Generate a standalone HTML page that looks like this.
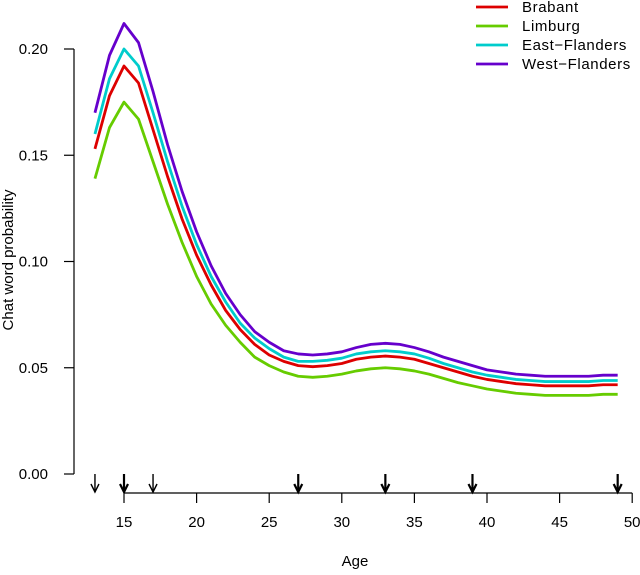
<!DOCTYPE html>
<html><head><meta charset="utf-8"><style>
body{margin:0;background:#fff}
svg text{font-family:"Liberation Sans",Arial,sans-serif;font-size:15px;fill:#000}
</style></head><body>
<svg id="c" width="640" height="570">
<g id="axes"></g><g id="series"></g><g id="legend"></g>
</svg>
<script>
const ages=[13,14,15,16,17,18,19,20,21,22,23,24,25,26,27,28,29,30,31,32,33,34,35,36,37,38,39,40,41,42,43,44,45,46,47,48,49];
const brabant=[.153,.178,.192,.184,.162,.140,.120,.103,.089,.077,.068,.061,.056,.053,.051,.0505,.051,.052,.054,.055,.0555,.055,.054,.052,.050,.048,.046,.0445,.0435,.0425,.042,.0415,.0415,.0415,.0415,.042,.042];
const limburg=[.139,.163,.175,.167,.147,.127,.109,.093,.080,.070,.062,.055,.051,.048,.046,.0455,.046,.047,.0485,.0495,.050,.0495,.0485,.047,.045,.043,.0415,.040,.039,.038,.0375,.037,.037,.037,.037,.0375,.0375];
const eastFlanders=[.160,.186,.200,.192,.170,.147,.126,.108,.093,.081,.071,.064,.059,.055,.053,.053,.0535,.0545,.0565,.0575,.058,.0575,.0565,.0545,.052,.050,.048,.0465,.0455,.0445,.044,.0435,.0435,.0435,.0435,.044,.044];
const westFlanders=[.170,.197,.212,.203,.180,.155,.133,.114,.098,.085,.075,.067,.062,.058,.0565,.056,.0565,.0575,.0595,.061,.0615,.061,.0595,.0575,.055,.053,.051,.049,.048,.047,.0465,.046,.046,.046,.046,.0465,.0465];
const seriesNames=["Brabant","Limburg","East\u2212Flanders","West\u2212Flanders"];
const seriesColors=["#dd0000","#66cc00","#00cccc","#6600cc"];
const yTicks=[0,0.05,0.10,0.15,0.20];
const yTickLabels=["0.00","0.05","0.10","0.15","0.20"];
const xTicks=[15,20,25,30,35,40,45,50];
const arrowAges=[13,15,17,27,33,39,49];
const arrowThick=[false,true,false,true,true,true,true];
const X=a=>124+(a-15)*14.52;
const Y=v=>474-v*2125;
const NS="http://www.w3.org/2000/svg";
function mk(p,t,at){const e=document.createElementNS(NS,t);for(const k in at)e.setAttribute(k,at[k]);p.appendChild(e);return e;}
const ax=document.getElementById('axes');
const yAxis=mk(ax,'line',{x1:74,x2:74,y1:Y(0.20),y2:Y(0),stroke:'#000','stroke-width':1.2});


yTicks.forEach((v,i)=>{
 const t=mk(ax,'line',{x1:64,x2:74,y1:Y(v),y2:Y(v),stroke:'#000','stroke-width':1.2});
 
 
 const l=mk(ax,'text',{x:48,y:Y(v)+5,'text-anchor':'end'});l.textContent=yTickLabels[i];
 
 
});
const xAxis=mk(ax,'line',{x1:X(15),x2:X(50),y1:493,y2:493,stroke:'#000','stroke-width':1.2});


xTicks.forEach(v=>{
 const t=mk(ax,'line',{x1:X(v),x2:X(v),y1:493,y2:503,stroke:'#000','stroke-width':1.2});
 
 
 const l=mk(ax,'text',{x:X(v),y:527,'text-anchor':'middle'});l.textContent=v;
 
 
});
arrowAges.forEach((a,i)=>{
 const x=X(a),w=arrowThick[i]?2.2:1.4;
 const g=mk(ax,'g',{stroke:'#000','stroke-width':w,fill:'none'});
 
 
 mk(g,'line',{x1:x,x2:x,y1:474,y2:492});
 mk(g,'polyline',{points:`${x-4},484 ${x},492 ${x+4},484`});
});
const yt=mk(ax,'text',{x:0,y:0,transform:'translate(13,260) rotate(-90)','text-anchor':'middle'});yt.textContent='Chat word probability';


const xt=mk(ax,'text',{x:355,y:566,'text-anchor':'middle'});xt.textContent='Age';


const sg=document.getElementById('series');
[brabant,limburg,eastFlanders,westFlanders].forEach((d,i)=>{
 const pl=mk(sg,'polyline',{points:d.map((v,j)=>X(ages[j])+','+Y(v)).join(' '),fill:'none',stroke:seriesColors[i],'stroke-width':2.8,'stroke-linejoin':'round'});
 
 
});
const lg=document.getElementById('legend');
seriesNames.forEach((n,i)=>{
 const y=7+i*19;
 const g=mk(lg,'g',{});
 
 
 mk(g,'line',{x1:476,x2:508,y1:y,y2:y,stroke:seriesColors[i],'stroke-width':2.8});
 const t=mk(g,'text',{x:522,y:y+5,'letter-spacing':'0.6'});t.textContent=n;
});
</script>
</body></html>
